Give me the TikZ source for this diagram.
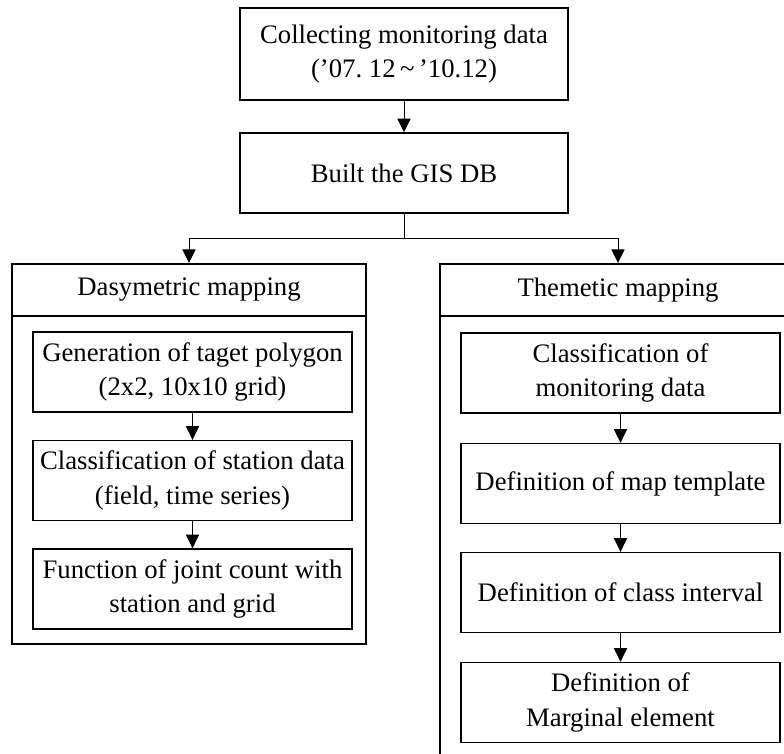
\documentclass[tikz,border=0pt]{standalone}
\usepackage{fontspec}
\setmainfont{Liberation Serif}
\usetikzlibrary{arrows.meta,positioning}

\tikzset{
  stepbox/.style={draw,line width=1pt,align=center,minimum width=7.975cm,minimum height=2cm,inner sep=1pt},
  topbox/.style={draw,line width=1.2pt,align=center,minimum width=8.2cm,inner sep=1pt},
  groupbox/.style={draw,line width=1.4pt,inner sep=0pt},
  headbox/.style={draw,line width=1.4pt,minimum height=1.3cm,inner sep=0pt,anchor=north},
  flow/.style={line width=0.7pt,-{Triangle[length=3.4mm,width=3.3mm]}},
}

\begin{document}
\begin{tikzpicture}[font=\fontsize{19}{24.5}\selectfont]
  \useasboundingbox (0,0) rectangle (19.6,-18.85);
  % top of the chart
  \node[topbox,minimum height=2.3cm] (collect) at (10.1,-1.35)
    {Collecting monitoring data\\(’07.~12\,\textasciitilde\,’10.12)};
  \node[topbox,minimum height=2cm] (gis) at (10.1,-4.325) {Built the GIS DB};
  % the two groups
  \node[groupbox,minimum width=8.85cm,minimum height=9.5cm] (dasy) at (4.725,-11.35) {};
  \node[headbox,minimum width=8.85cm] (dasyhead) at (dasy.north) {Dasymetric mapping};
  \node[groupbox,minimum width=8.9cm,minimum height=13.4cm] (them) at (15.45,-13.3) {};
  \node[headbox,minimum width=8.9cm] (themhead) at (them.north) {Themetic mapping};
  % steps, left
  \node[stepbox] (dasyA) at (4.8125,-9.3) {Generation of taget polygon\\(2x2, 10x10 grid)};
  \node[stepbox] (dasyB) at (4.8125,-12.0125) {Classification of station data\\(field, time series)};
  \node[stepbox] (dasyC) at (4.8125,-14.725) {Function of joint count with\\station and grid};
  % steps, right
  \node[stepbox] (themA) at (15.5125,-9.325) {Classification of\\monitoring data};
  \node[stepbox] (themB) at (15.5125,-12.0875) {Definition of map template};
  \node[stepbox] (themC) at (15.5125,-14.8125) {Definition of class interval};
  \node[stepbox] (themD) at (15.5125,-17.5625) {Definition of\\Marginal element};

  \draw[flow] (collect) -- (gis);
  \draw[flow] (gis.south) -- ++(0,-0.625) -| (dasy.north);
  \draw[flow] (gis.south) -- ++(0,-0.625) -| (them.north);
  \draw[flow] (dasyA) -- (dasyB);
  \draw[flow] (dasyB) -- (dasyC);
  \draw[flow] (themA) -- (themB);
  \draw[flow] (themB) -- (themC);
  \draw[flow] (themC) -- (themD);
\end{tikzpicture}
\end{document}
